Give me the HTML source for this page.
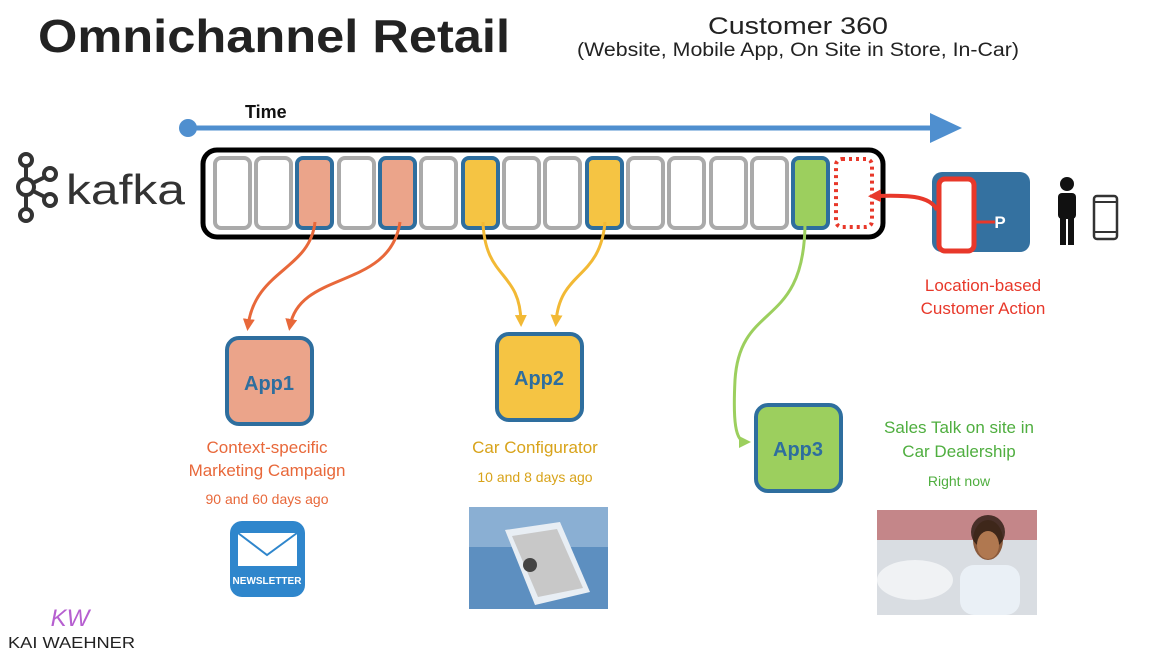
<!DOCTYPE html>
<html><head><meta charset="utf-8"><style>
body{margin:0;background:#fff}
svg{display:block;font-family:"Liberation Sans",sans-serif}
</style></head><body>
<svg width="1160" height="654" viewBox="0 0 1160 654" xmlns="http://www.w3.org/2000/svg">
<defs>
<marker id="mo" markerWidth="12" markerHeight="12" refX="7" refY="6" orient="auto" markerUnits="userSpaceOnUse" viewBox="0 0 12 12"><path d="M0,0 L12,6 L0,12 z" fill="#e8683a"/></marker>
<marker id="my" markerWidth="12" markerHeight="12" refX="7" refY="6" orient="auto" markerUnits="userSpaceOnUse" viewBox="0 0 12 12"><path d="M0,0 L12,6 L0,12 z" fill="#f2b935"/></marker>
<marker id="mg" markerWidth="12" markerHeight="12" refX="7" refY="6" orient="auto" markerUnits="userSpaceOnUse" viewBox="0 0 12 12"><path d="M0,0 L12,6 L0,12 z" fill="#9ccf5e"/></marker>
<marker id="mr" markerWidth="13" markerHeight="13" refX="7" refY="6.5" orient="auto" markerUnits="userSpaceOnUse" viewBox="0 0 13 13"><path d="M0,0 L13,6.5 L0,13 z" fill="#e8382a"/></marker>
</defs>
<text x="38" y="52" font-size="46" font-weight="bold" fill="#222" textLength="472" lengthAdjust="spacingAndGlyphs">Omnichannel Retail</text>
<text x="708" y="34" font-size="24" fill="#222" textLength="180" lengthAdjust="spacingAndGlyphs">Customer 360</text>
<text x="577" y="56" font-size="19" fill="#222" textLength="442" lengthAdjust="spacingAndGlyphs">(Website, Mobile App, On Site in Store, In-Car)</text>
<circle cx="188" cy="128" r="9" fill="#4f8fcf"/>
<line x1="188" y1="128" x2="932" y2="128" stroke="#4f8fcf" stroke-width="5"/>
<path d="M930,113 L962,128 L930,143 z" fill="#4f8fcf"/>
<text x="245" y="118" font-size="18" font-weight="bold" fill="#111">Time</text>
<!-- kafka logo -->
<g stroke="#333" stroke-width="4" fill="none">
<circle cx="26" cy="160" r="6"/><circle cx="26" cy="187" r="8"/><circle cx="26" cy="215" r="6"/>
<circle cx="50" cy="174" r="6"/><circle cx="50" cy="200" r="6"/>
<line x1="26" y1="166" x2="26" y2="179"/><line x1="26" y1="195" x2="26" y2="209"/>
<line x1="33" y1="183" x2="45" y2="177"/><line x1="33" y1="191" x2="45" y2="197"/>
</g>
<text x="66" y="204" font-size="42" fill="#333" textLength="119" lengthAdjust="spacingAndGlyphs">kafka</text>
<!-- bar -->
<rect x="203" y="150" width="680" height="87" rx="14" fill="#fff" stroke="#000" stroke-width="5"/>
<g stroke-width="4">
<rect x="215" y="158" width="35" height="70" rx="6" fill="#fff" stroke="#aaa"/>
<rect x="256" y="158" width="35" height="70" rx="6" fill="#fff" stroke="#aaa"/>
<rect x="297" y="158" width="35" height="70" rx="6" fill="#eba48a" stroke="#2e6e9e"/>
<rect x="339" y="158" width="35" height="70" rx="6" fill="#fff" stroke="#aaa"/>
<rect x="380" y="158" width="35" height="70" rx="6" fill="#eba48a" stroke="#2e6e9e"/>
<rect x="421" y="158" width="35" height="70" rx="6" fill="#fff" stroke="#aaa"/>
<rect x="463" y="158" width="35" height="70" rx="6" fill="#f5c443" stroke="#2e6e9e"/>
<rect x="504" y="158" width="35" height="70" rx="6" fill="#fff" stroke="#aaa"/>
<rect x="545" y="158" width="35" height="70" rx="6" fill="#fff" stroke="#aaa"/>
<rect x="587" y="158" width="35" height="70" rx="6" fill="#f5c443" stroke="#2e6e9e"/>
<rect x="628" y="158" width="35" height="70" rx="6" fill="#fff" stroke="#aaa"/>
<rect x="669" y="158" width="35" height="70" rx="6" fill="#fff" stroke="#aaa"/>
<rect x="711" y="158" width="35" height="70" rx="6" fill="#fff" stroke="#aaa"/>
<rect x="752" y="158" width="35" height="70" rx="6" fill="#fff" stroke="#aaa"/>
<rect x="793" y="158" width="35" height="70" rx="6" fill="#9ccf5e" stroke="#2e6e9e"/>
<rect x="836" y="159" width="36" height="68" rx="6" fill="#fff" stroke="#e8382a" stroke-dasharray="3 4"/>
</g>
<!-- producer -->
<rect x="932" y="172" width="98" height="80" rx="10" fill="#3471a0"/>
<line x1="972" y1="222" x2="995" y2="222" stroke="#e8382a" stroke-width="3"/>
<rect x="939" y="179" width="35" height="72" rx="6" fill="#fff" stroke="#e8382a" stroke-width="5"/>
<text x="1000" y="228" font-size="17" font-weight="bold" fill="#fff" text-anchor="middle">P</text>
<path d="M937,210 C930,195 905,195 874,196" stroke="#e8382a" stroke-width="4" fill="none" marker-end="url(#mr)"/>
<!-- person -->
<g fill="#111">
<circle cx="1067" cy="184" r="7"/>
<rect x="1058" y="193" width="18" height="26" rx="4"/>
<rect x="1060" y="215" width="6" height="30"/><rect x="1068" y="215" width="6" height="30"/>
</g>
<rect x="1094" y="196" width="23" height="43" rx="3" fill="#fff" stroke="#333" stroke-width="2.5"/>
<line x1="1094" y1="202" x2="1117" y2="202" stroke="#333" stroke-width="2"/>
<line x1="1094" y1="232" x2="1117" y2="232" stroke="#333" stroke-width="2"/>
<text x="983" y="291" font-size="17" fill="#e8382a" text-anchor="middle">Location-based</text>
<text x="983" y="314" font-size="17" fill="#e8382a" text-anchor="middle">Customer Action</text>
<!-- connectors -->
<g fill="none" stroke-width="3">
<path d="M315,222 C310,270 255,270 248,326" stroke="#e8683a" marker-end="url(#mo)"/>
<path d="M400,222 C390,290 300,270 290,326" stroke="#e8683a" marker-end="url(#mo)"/>
<path d="M483,222 C485,280 520,270 521,322" stroke="#f2b935" marker-end="url(#my)"/>
<path d="M605,222 C600,280 560,270 556,322" stroke="#f2b935" marker-end="url(#my)"/>
<path d="M805,222 C805,330 740,300 735,380 C733,420 735,442 746,442" stroke="#9ccf5e" marker-end="url(#mg)"/>
</g>
<!-- apps -->
<rect x="227" y="338" width="85" height="86" rx="12" fill="#eba48a" stroke="#2e6e9e" stroke-width="4"/>
<text x="269" y="390" font-size="20" font-weight="bold" fill="#2e6e9e" text-anchor="middle">App1</text>
<rect x="497" y="334" width="85" height="86" rx="12" fill="#f5c443" stroke="#2e6e9e" stroke-width="4"/>
<text x="539" y="385" font-size="20" font-weight="bold" fill="#2e6e9e" text-anchor="middle">App2</text>
<rect x="756" y="405" width="85" height="86" rx="12" fill="#9ccf5e" stroke="#2e6e9e" stroke-width="4"/>
<text x="798" y="456" font-size="20" font-weight="bold" fill="#2e6e9e" text-anchor="middle">App3</text>
<!-- labels -->
<text x="267" y="453" font-size="17" fill="#e8683a" text-anchor="middle">Context-specific</text>
<text x="267" y="476" font-size="17" fill="#e8683a" text-anchor="middle">Marketing Campaign</text>
<text x="267" y="504" font-size="14" fill="#e8683a" text-anchor="middle">90 and 60 days ago</text>
<text x="535" y="453" font-size="17" fill="#d8a31a" text-anchor="middle">Car Configurator</text>
<text x="535" y="482" font-size="14" fill="#d8a31a" text-anchor="middle">10 and 8 days ago</text>
<text x="959" y="433" font-size="17" fill="#4fae3f" text-anchor="middle">Sales Talk on site in</text>
<text x="959" y="457" font-size="17" fill="#4fae3f" text-anchor="middle">Car Dealership</text>
<text x="959" y="486" font-size="14" fill="#4fae3f" text-anchor="middle">Right now</text>
<!-- newsletter -->
<rect x="230" y="521" width="75" height="76" rx="12" fill="#2f86cc"/>
<rect x="238" y="533" width="59" height="33" fill="#fff"/>
<path d="M238,533 L267,555 L297,533" stroke="#2f86cc" stroke-width="2" fill="none"/>
<text x="267" y="584" font-size="10" font-weight="bold" fill="#fff" text-anchor="middle">NEWSLETTER</text>
<!-- tablet photo -->
<rect x="469" y="507" width="139" height="102" fill="#5d8fc0"/>
<rect x="469" y="507" width="139" height="40" fill="#a8c4e0" opacity="0.6"/>
<path d="M505,530 L560,522 L590,592 L535,605 z" fill="#e8eef4"/>
<path d="M512,536 L557,529 L583,588 L538,597 z" fill="#c8c8c8"/>
<circle cx="530" cy="565" r="7" fill="#444"/>
<!-- dealership photo -->
<rect x="877" y="510" width="160" height="105" fill="#d9dde2"/>
<rect x="877" y="510" width="160" height="30" fill="#b03030" opacity="0.5"/>
<ellipse cx="915" cy="580" rx="38" ry="20" fill="#f0f2f4"/>
<rect x="960" y="565" width="60" height="50" rx="14" fill="#eaf0f6"/>
<ellipse cx="988" cy="540" rx="15" ry="20" fill="#8a5a3c"/>
<ellipse cx="988" cy="532" rx="17" ry="17" fill="#2a1a12" opacity="0.8"/>
<ellipse cx="988" cy="545" rx="11" ry="14" fill="#b07850"/>
<!-- logo -->
<text x="70" y="626" font-size="24" fill="#b65fd0" text-anchor="middle" font-style="italic">KW</text>
<text x="8" y="648" font-size="16" fill="#222" textLength="127" lengthAdjust="spacingAndGlyphs">KAI WAEHNER</text>
</svg>
</body></html>
